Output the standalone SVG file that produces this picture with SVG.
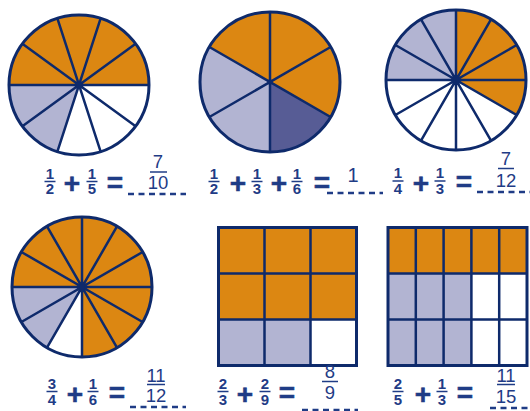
<svg xmlns="http://www.w3.org/2000/svg" width="530" height="411" viewBox="0 0 530 411">
<style>
.or{fill:#DC8712}
.lb{fill:#B2B4D2}
.db{fill:#575C95}
.wh{fill:#FFFFFF}
.sp{stroke:#0E2A6B;stroke-width:2.5;fill:none}
.rim{fill:none;stroke:#0E2A6B;stroke-width:3}
.dot{fill:#0E2A6B}
.f{font-family:"Liberation Sans",Arial,sans-serif;font-weight:bold;font-size:15px;fill:#1F3C86;text-anchor:middle}
.op{font-family:"Liberation Sans",Arial,sans-serif;font-weight:bold;font-size:28px;fill:#1F3C86;stroke:#1F3C86;stroke-width:0.6;text-anchor:middle}
.a{font-family:"Liberation Sans",Arial,sans-serif;font-size:18.5px;fill:#1F3C86;text-anchor:middle}
.bar{stroke:#1F3C86;stroke-width:1.5}
.dash{stroke:#1F3C86;stroke-width:2.5;stroke-dasharray:6 4.5}
</style>
<rect width="530" height="411" fill="#FFFFFF"/>

<g id="circle1">
<circle cx="79" cy="85" r="70" class="wh"/>
<path class="or" d="M79,85 L9,85 A70,70 0 0 1 149,85 Z"/>
<path class="lb" d="M79,85 L57.37,151.57 A70,70 0 0 1 9,85 Z"/>
<path class="sp" d="M149,85 L9,85 M135.63,126.15 L22.37,43.85 M100.63,151.57 L57.37,18.43 M57.37,151.57 L100.63,18.43 M22.37,126.15 L135.63,43.85"/>
<circle cx="79" cy="85" r="70" class="rim"/>
<circle cx="79" cy="85" r="3" class="dot"/>
</g>

<g id="circle2">
<circle cx="270" cy="82" r="70" class="wh"/>
<path class="or" d="M270,82 L209.38,47 A70,70 0 0 1 330.62,117 Z"/>
<path class="lb" d="M270,82 L270,152 A70,70 0 0 1 209.38,47 Z"/>
<path class="db" d="M270,82 L330.62,117 A70,70 0 0 1 270,152 Z"/>
<path class="sp" d="M270,12 L270,152 M330.62,117 L209.38,47 M209.38,117 L330.62,47"/>
<circle cx="270" cy="82" r="70" class="rim"/>
<circle cx="270" cy="82" r="2.5" class="dot"/>
</g>

<g id="circle3">
<circle cx="456" cy="80" r="70" class="wh"/>
<path class="or" d="M456,80 L456,10 A70,70 0 0 1 516.62,115 Z"/>
<path class="lb" d="M456,80 L386,80 A70,70 0 0 1 456,10 Z"/>
<path class="sp" d="M526,80 L386,80 M516.62,115 L395.38,45 M491,140.62 L421,19.38 M456,150 L456,10 M421,140.62 L491,19.38 M395.38,115 L516.62,45"/>
<circle cx="456" cy="80" r="70" class="rim"/>
<circle cx="456" cy="80" r="3" class="dot"/>
</g>

<g id="circle4">
<circle cx="82" cy="287" r="70" class="wh"/>
<path class="or" d="M82,287 L12,287 A70,70 0 1 1 82,357 Z"/>
<path class="lb" d="M82,287 L47,347.62 A70,70 0 0 1 12,287 Z"/>
<path class="sp" d="M152,287 L12,287 M142.62,322 L21.38,252 M117,347.62 L47,226.38 M82,357 L82,217 M47,347.62 L117,226.38 M21.38,322 L142.62,252"/>
<circle cx="82" cy="287" r="70" class="rim"/>
<circle cx="82" cy="287" r="3" class="dot"/>
</g>

<g id="grid1">
<rect x="218.5" y="227.5" width="138" height="138" class="wh"/>
<rect x="218.5" y="227.5" width="138" height="92" class="or"/>
<rect x="218.5" y="319.5" width="92" height="46" class="lb"/>
<path class="sp" d="M264.5,227.5 V365.5 M310.5,227.5 V365.5 M218.5,273.5 H356.5 M218.5,319.5 H356.5"/>
<rect x="218.5" y="227.5" width="138" height="138" class="rim"/>
</g>

<g id="grid2">
<rect x="388" y="227.5" width="139" height="138" class="wh"/>
<rect x="388" y="227.5" width="139" height="46" class="or"/>
<rect x="388" y="273.5" width="83.4" height="92" class="lb"/>
<path class="sp" d="M415.8,227.5 V365.5 M443.6,227.5 V365.5 M471.4,227.5 V365.5 M499.2,227.5 V365.5 M388,273.5 H527 M388,319.5 H527"/>
<rect x="388" y="227.5" width="139" height="138" class="rim"/>
</g>

<g id="eq1">
<text class="f" x="50" y="178.5">1</text><line class="bar" x1="44.5" y1="181.5" x2="55.5" y2="181.5"/><text class="f" x="50" y="194">2</text>
<text class="op" x="72" y="193">+</text>
<text class="f" x="92" y="178.5">1</text><line class="bar" x1="86.5" y1="181.5" x2="97.5" y2="181.5"/><text class="f" x="92" y="194">5</text>
<text class="op" x="115" y="192">=</text>
<text class="a" x="158" y="168">7</text><line class="bar" x1="150" y1="172" x2="167" y2="172"/><text class="a" x="158" y="189">10</text>
<line class="dash" x1="128" y1="194" x2="186" y2="194"/>
</g>

<g id="eq2">
<text class="f" x="214" y="178.5">1</text><line class="bar" x1="208.5" y1="181.5" x2="219.5" y2="181.5"/><text class="f" x="214" y="194">2</text>
<text class="op" x="238" y="193">+</text>
<text class="f" x="257" y="178.5">1</text><line class="bar" x1="251.5" y1="181.5" x2="262.5" y2="181.5"/><text class="f" x="257" y="194">3</text>
<text class="op" x="279" y="193">+</text>
<text class="f" x="297" y="178.5">1</text><line class="bar" x1="291.5" y1="181.5" x2="302.5" y2="181.5"/><text class="f" x="297" y="194">6</text>
<text class="op" x="322" y="192">=</text>
<text class="a" x="353" y="182" style="font-size:20px">1</text>
<line class="dash" x1="327" y1="193" x2="383" y2="193"/>
</g>

<g id="eq3">
<text class="f" x="398" y="178">1</text><line class="bar" x1="392.5" y1="181" x2="403.5" y2="181"/><text class="f" x="398" y="193.5">4</text>
<text class="op" x="421" y="193">+</text>
<text class="f" x="440" y="178">1</text><line class="bar" x1="434.5" y1="181" x2="445.5" y2="181"/><text class="f" x="440" y="193.5">3</text>
<text class="op" x="464" y="191">=</text>
<text class="a" x="506" y="165">7</text><line class="bar" x1="498" y1="168.5" x2="514" y2="168.5"/><text class="a" x="506" y="187">12</text>
<line class="dash" x1="477" y1="192" x2="530" y2="192"/>
</g>

<g id="eq4">
<text class="f" x="52" y="388.5">3</text><line class="bar" x1="46.5" y1="391.5" x2="57.5" y2="391.5"/><text class="f" x="52" y="405">4</text>
<text class="op" x="75" y="404">+</text>
<text class="f" x="93" y="388.5">1</text><line class="bar" x1="87.5" y1="391.5" x2="98.5" y2="391.5"/><text class="f" x="93" y="405">6</text>
<text class="op" x="117" y="402">=</text>
<text class="a" x="156" y="382">11</text><line class="bar" x1="147" y1="384.5" x2="165" y2="384.5"/><text class="a" x="156" y="402">12</text>
<line class="dash" x1="130" y1="407" x2="186" y2="407"/>
</g>

<g id="eq5">
<text class="f" x="223" y="388.5">2</text><line class="bar" x1="217.5" y1="391.5" x2="228.5" y2="391.5"/><text class="f" x="223" y="405">3</text>
<text class="op" x="245" y="404">+</text>
<text class="f" x="265" y="388.5">2</text><line class="bar" x1="259.5" y1="391.5" x2="270.5" y2="391.5"/><text class="f" x="265" y="405">9</text>
<text class="op" x="287" y="402">=</text>
<text class="a" x="330" y="378">8</text><line class="bar" x1="322" y1="381.5" x2="338" y2="381.5"/><text class="a" x="330" y="399">9</text>
<line class="dash" x1="302" y1="410" x2="358" y2="410"/>
</g>

<g id="eq6">
<text class="f" x="398" y="388.5">2</text><line class="bar" x1="392.5" y1="391.5" x2="403.5" y2="391.5"/><text class="f" x="398" y="405">5</text>
<text class="op" x="423" y="404">+</text>
<text class="f" x="442" y="388.5">1</text><line class="bar" x1="436.5" y1="391.5" x2="447.5" y2="391.5"/><text class="f" x="442" y="405">3</text>
<text class="op" x="465" y="402">=</text>
<text class="a" x="506" y="382">11</text><line class="bar" x1="497" y1="384.5" x2="515" y2="384.5"/><text class="a" x="506" y="403">15</text>
<line class="dash" x1="490" y1="408" x2="530" y2="408"/>
</g>
</svg>
